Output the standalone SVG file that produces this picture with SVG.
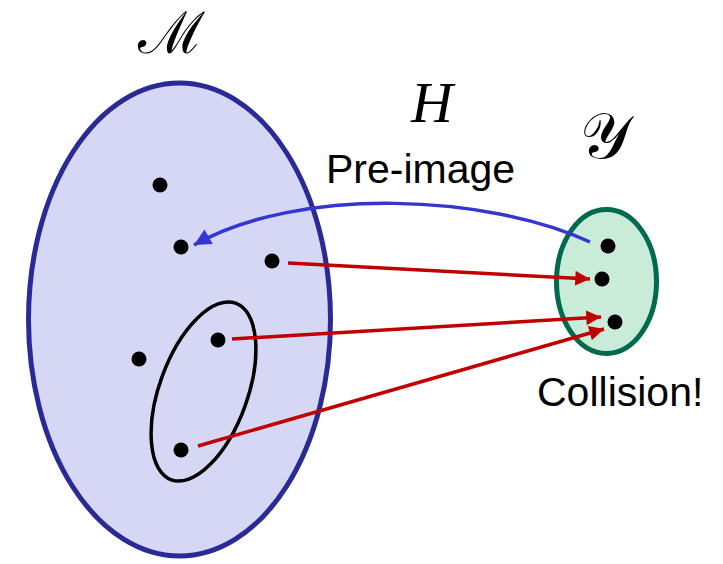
<svg xmlns="http://www.w3.org/2000/svg" width="723" height="564" viewBox="0 0 723 564">
<style>
.dot{fill:#000}
.red{stroke:#c00000;stroke-width:3.5;fill:none}
.lbl{font-family:"Liberation Sans",Arial,sans-serif;font-size:41px;fill:#000}
.math{font-family:"DejaVu Serif","Liberation Serif",serif;fill:#000}
</style>
<defs>
<marker id="ar" viewBox="0 0 10 10" refX="10" refY="5" markerWidth="5" markerHeight="4.2" orient="auto" markerUnits="strokeWidth">
<path d="M0,0 L10,5 L0,10 z" fill="#c00000"/>
</marker>
<marker id="ab" viewBox="0 0 10 10" refX="10" refY="5" markerWidth="5.5" markerHeight="4.8" orient="auto" markerUnits="strokeWidth">
<path d="M0,0 L10,5 L0,10 z" fill="#3535d0"/>
</marker>
</defs>
<g id="M">
<ellipse cx="179.5" cy="319.5" rx="151" ry="236.5" fill="#d6d7f4" stroke="#2a2a96" stroke-width="5"/>
<text class="math" x="138" y="53" font-size="58">ℳ</text>
</g>
<g id="subset">
<ellipse cx="203.5" cy="391.5" rx="44" ry="94" transform="rotate(20 203.5 391.5)" fill="none" stroke="#000" stroke-width="3.5"/>
</g>
<g id="Y">
<ellipse cx="606.5" cy="281.5" rx="50" ry="72" fill="#c8ecd8" stroke="#006a4e" stroke-width="5"/>
<text class="math" x="580" y="158" font-size="64">𝒴</text>
</g>
<g id="points">
<circle class="dot" cx="160" cy="185" r="7.5"/>
<circle class="dot" cx="181" cy="247" r="7.5"/>
<circle class="dot" cx="272" cy="261" r="7.5"/>
<circle class="dot" cx="218" cy="340" r="7.5"/>
<circle class="dot" cx="139" cy="359" r="7.5"/>
<circle class="dot" cx="181" cy="450" r="7.5"/>
<circle class="dot" cx="608" cy="246" r="7.5"/>
<circle class="dot" cx="602" cy="279" r="7.5"/>
<circle class="dot" cx="615" cy="322" r="7.5"/>
</g>
<g id="connectors">
<path d="M590,242 C490,195 300,185 194,245" fill="none" stroke="#3535d0" stroke-width="3.5" marker-end="url(#ab)"/>
<path class="red" d="M288,263 L590,279" marker-end="url(#ar)"/>
<path class="red" d="M232,339 L601,317" marker-end="url(#ar)"/>
<path class="red" d="M198,446 L604,329" marker-end="url(#ar)"/>
</g>
<g id="labels">
<text x="411" y="122" font-family="Liberation Serif,serif" font-style="italic" font-size="58">H</text>
<text class="lbl" x="326" y="183">Pre-image</text>
<text class="lbl" x="537" y="406" font-size="43">Collision!</text>
</g>
</svg>
